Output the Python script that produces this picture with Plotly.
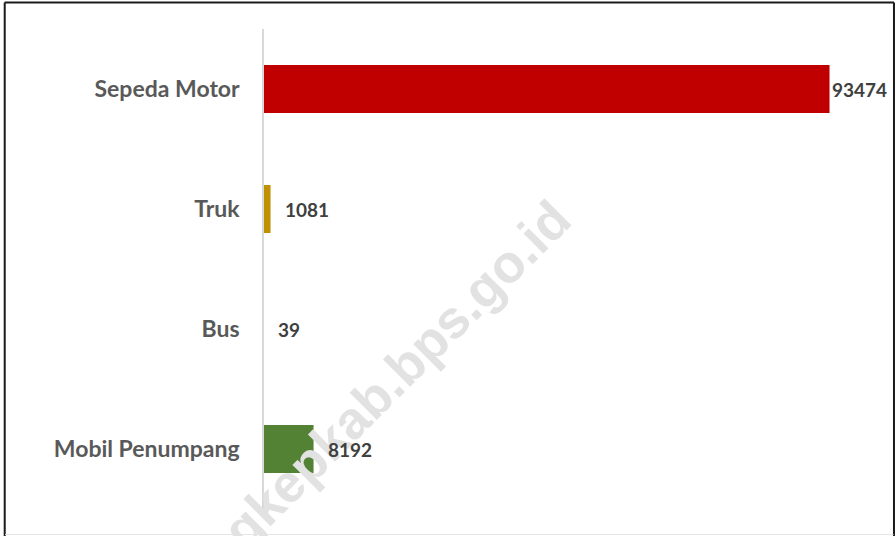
import plotly.graph_objects as go

# Data (top to bottom as shown)
categories = ["Sepeda Motor", "Truk", "Bus", "Mobil Penumpang"]
values = [93474, 1081, 39, 8192]
bar_colors = ["#C00000", "#BF9000", "rgba(0,0,0,0)", "#548235"]
watermark = "pangkepkab.bps.go.id"

W, H = 896, 536
L, R, T, B = 264, 869.5, 29, 509  # plot area in pixels


def px(x):
    return (x - L) / (R - L)


def py(y):
    return (B - y) / (B - T)


fig = go.Figure()
fig.add_trace(go.Bar(
    x=values, y=categories, orientation="h",
    marker=dict(color=bar_colors, line=dict(width=0)),
    width=0.4, hoverinfo="skip",
))

# watermark (drawn first so the value labels sit on top)
fig.add_annotation(
    x=px(363), y=py(407), xref="paper", yref="paper", text=watermark,
    showarrow=False, textangle=-45, xanchor="center", yanchor="middle",
    font=dict(family="Liberation Sans", size=53, color="#E2E2E2", weight="bold"),
)

vmax = max(values)
for c, v in zip(categories, values):
    fig.add_annotation(
        x=v, y=c, xref="x", yref="y", text=str(v), showarrow=False,
        xanchor="left", yanchor="middle", xshift=0 if v == vmax else 12,
        font=dict(family="Lato", size=19, color="#404040", weight="bold"),
    )

# border (top, left, right) and faint bottom line
fig.add_shape(type="line", xref="paper", yref="paper",
              x0=px(4.5), x1=px(894.5), y0=py(2.5), y1=py(2.5),
              line=dict(color="#1a1a1a", width=2), layer="above")
fig.add_shape(type="line", xref="paper", yref="paper",
              x0=px(4.5), x1=px(4.5), y0=py(2.5), y1=py(540),
              line=dict(color="#1a1a1a", width=2), layer="above")
fig.add_shape(type="line", xref="paper", yref="paper",
              x0=px(894.5), x1=px(894.5), y0=py(2.5), y1=py(540),
              line=dict(color="#1a1a1a", width=2), layer="above")
fig.add_shape(type="line", xref="paper", yref="paper",
              x0=px(5), x1=px(894), y0=py(534.5), y1=py(534.5),
              line=dict(color="#E6E6E6", width=1), layer="above")

fig.update_layout(
    width=W, height=H,
    margin=dict(l=L, r=W - R, t=T, b=H - B, pad=0),
    paper_bgcolor="white", plot_bgcolor="white",
    showlegend=False,
    xaxis=dict(range=[0, 100000], visible=False, showgrid=False, zeroline=False),
    yaxis=dict(
        range=[3.5, -0.5], type="category",
        showline=True, linecolor="#D9D9D9", linewidth=1.5,
        showgrid=False, zeroline=False, ticks="",
        ticklabelstandoff=18,
        tickfont=dict(family="Lato", size=23, color="#595959", weight="bold"),
    ),
)

fig.write_html(
    "out.html",
    config={"displayModeBar": False},
    post_script="document.body.style.margin='0';document.body.style.overflow='hidden';",
)
